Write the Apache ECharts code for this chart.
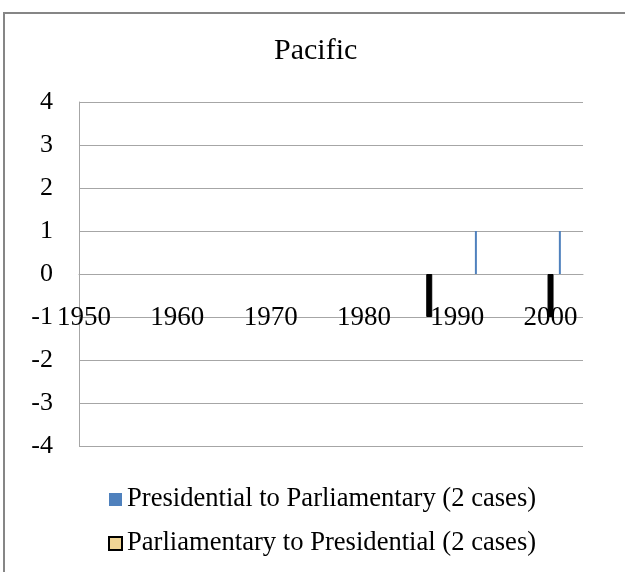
<!DOCTYPE html>
<html><head><meta charset="utf-8">
<script src="https://cdn.jsdelivr.net/npm/echarts@6/dist/echarts.min.js"></script>
<style>html,body{margin:0;padding:0;background:#fff}#c{width:625px;height:572px}</style>
</head><body><div id="c"></div>
<script>
const title = 'Pacific';
const yTicks = [-4, -3, -2, -1, 0, 1, 2, 3, 4];
const xTickLabels = [1950, 1960, 1970, 1980, 1990, 2000];
const presToParlYears = [1992, 2001];
const presToParlValues = [1, 1];
const parlToPresYears = [1987, 2000];
const parlToPresValues = [-1, -1];
const seriesNames = ['Presidential to Parliamentary (2 cases)', 'Parliamentary to Presidential (2 cases)'];

const font = '"Liberation Serif","Times New Roman",serif';
const grey = '#a6a6a6';
const xMin = 1949.46, xMax = 2003.48;
const gridTop = 102, gridBottom = 126, chartH = 572;
// put the x axis where y = 0 sits (middle of the symmetric -4..4 range)
const zeroOffset = -((chartH - gridTop - gridBottom) / 2);

const chart = echarts.init(document.getElementById('c'));
chart.setOption({
  animation: false,
  graphic: [{type: 'rect', shape: {x: 4, y: 13, width: 700, height: 700},
    style: {fill: 'none', stroke: '#868686', lineWidth: 2}, silent: true}],
  title: {text: title, left: 274, top: 36, padding: 0,
    textStyle: {fontFamily: font, fontWeight: 'normal', fontSize: 30, color: '#000'}},
  grid: {left: 79, right: 42, top: gridTop, bottom: gridBottom, containLabel: false},
  xAxis: [
    {type: 'value', min: xMin, max: xMax, position: 'bottom', offset: zeroOffset,
      axisLine: {show: true, onZero: false, lineStyle: {color: grey, width: 1}},
      axisTick: {show: false}, splitLine: {show: false},
      axisLabel: {show: true, customValues: xTickLabels, margin: 30,
        fontFamily: font, fontSize: 27, color: '#000', lineHeight: 27,
        formatter: v => String(Math.round(v))}},
    {type: 'value', min: xMin, max: xMax, position: 'top',
      axisLine: {show: false, onZero: false}, axisTick: {show: false},
      splitLine: {show: false}, axisLabel: {show: false}}
  ],
  yAxis: {
    type: 'value', min: yTicks[0], max: yTicks[yTicks.length - 1], interval: 1,
    axisLine: {show: true, lineStyle: {color: grey, width: 1}},
    axisTick: {show: false},
    splitLine: {show: true, lineStyle: {color: grey, width: 1}},
    axisLabel: {margin: 26, fontFamily: font, fontSize: 26, color: '#000'}
  },
  legend: {
    orient: 'vertical', left: 108, top: 486, padding: 0, itemGap: 17,
    itemWidth: 13, itemHeight: 13,
    textStyle: {fontFamily: font, fontSize: 26.6, color: '#000', lineHeight: 26},
    data: [
      {name: seriesNames[0], icon: 'rect', itemStyle: {color: '#4F81BD', borderWidth: 0}},
      {name: seriesNames[1], icon: 'rect', itemStyle: {color: '#F0D595', borderColor: '#000', borderWidth: 2}}
    ]
  },
  series: [
    {name: seriesNames[0], type: 'bar', xAxisIndex: 0, barWidth: 2,
      itemStyle: {color: '#4F81BD'},
      data: presToParlYears.map((x, i) => [x, presToParlValues[i]])},
    {name: seriesNames[1], type: 'bar', xAxisIndex: 1, barWidth: 6,
      itemStyle: {color: '#000', borderColor: '#000', borderWidth: 1},
      data: parlToPresYears.map((x, i) => [x, parlToPresValues[i]])}
  ]
});
</script></body></html>
